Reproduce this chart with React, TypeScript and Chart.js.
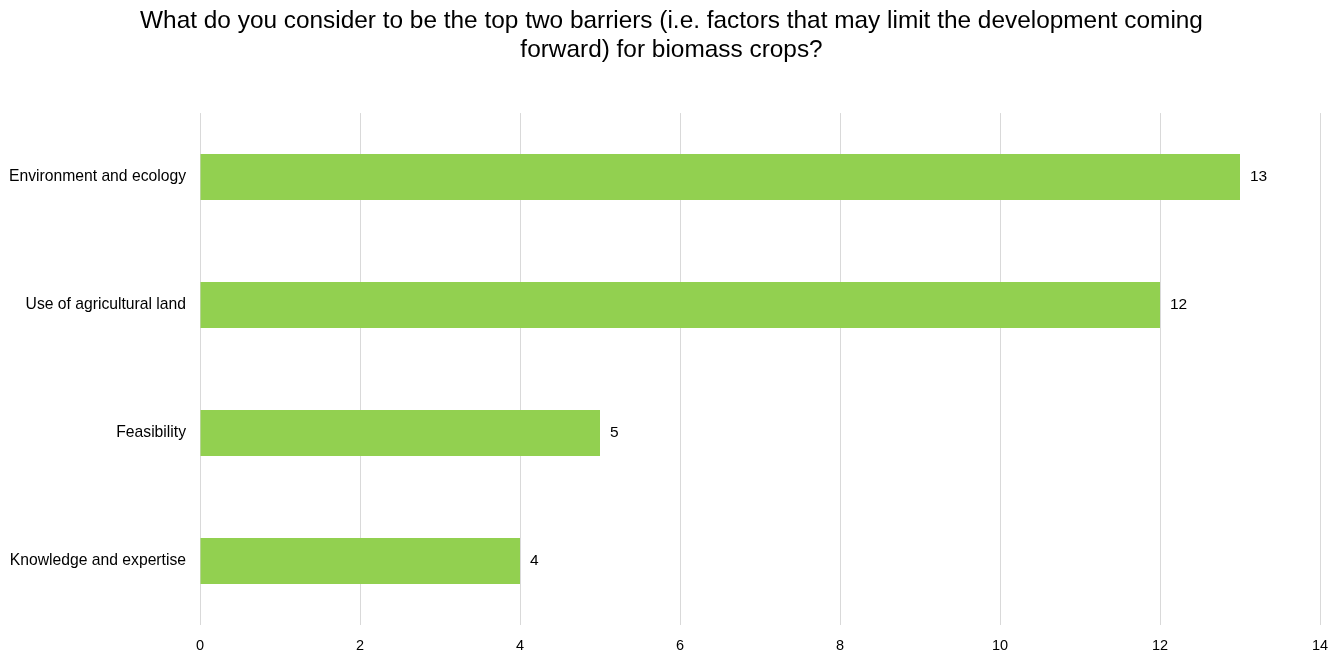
import React, { useEffect, useRef } from "react";
import { Chart, registerables } from "chart.js";

Chart.register(...registerables);

const categories = [
  "Environment and ecology",
  "Use of agricultural land",
  "Feasibility",
  "Knowledge and expertise",
];
const values = [13, 12, 5, 4];
const titleLines = [
  "What do you consider to be the top two barriers (i.e. factors that may limit the development coming",
  "forward) for biomass crops?",
];
const xMin = 0;
const xMax = 14;
const xStep = 2;

const FONT = "'Liberation Sans', Arial, sans-serif";

const valueLabels = {
  id: "valueLabels",
  afterDatasetsDraw(chart: any) {
    const ctx = chart.ctx;
    const meta = chart.getDatasetMeta(0);
    ctx.save();
    ctx.font = `15.5px ${FONT}`;
    ctx.fillStyle = "#000000";
    ctx.textAlign = "left";
    ctx.textBaseline = "middle";
    meta.data.forEach((bar: any, i: number) => {
      ctx.fillText(String(chart.data.datasets[0].data[i]), bar.x + 10, bar.y);
    });
    ctx.restore();
  },
};

export default function App() {
  const ref = useRef<HTMLCanvasElement | null>(null);
  useEffect(() => {
    if (!ref.current) return;
    const chart = new Chart(ref.current, {
      type: "bar",
      data: {
        labels: categories,
        datasets: [
          {
            data: values,
            backgroundColor: "#92D050",
            borderWidth: 0,
            categoryPercentage: 1,
            barPercentage: 0.36,
          },
        ],
      },
      options: {
        indexAxis: "y",
        animation: false,
        responsive: false,
        maintainAspectRatio: false,
        layout: { padding: { left: 0, right: 0, top: 0, bottom: 0 } },
        plugins: {
          legend: { display: false },
          tooltip: { enabled: false },
          title: {
            display: true,
            text: titleLines,
            color: "#000000",
            font: { family: FONT, size: 24.4, weight: "normal", lineHeight: 1.19 },
            padding: { top: 7, bottom: 48 },
          },
        },
        scales: {
          x: {
            min: xMin,
            max: xMax,
            border: { display: false },
            grid: { color: "#d9d9d9", lineWidth: 1, drawTicks: false },
            ticks: {
              stepSize: xStep,
              color: "#000000",
              padding: 12,
              font: { family: FONT, size: 14.5 },
            },
            afterFit: (scale: any) => {
              scale.height = 27;
            },
          },
          y: {
            border: { display: false },
            grid: { display: false, drawTicks: false },
            ticks: {
              color: "#000000",
              padding: 14,
              font: { family: FONT, size: 15.7 },
            },
            afterFit: (scale: any) => {
              scale.width = 200;
            },
          },
          yRight: {
            type: "category",
            position: "right",
            labels: categories,
            border: { display: false },
            grid: { display: false, drawTicks: false },
            ticks: { display: false },
            afterFit: (scale: any) => {
              scale.width = 23;
            },
          },
        },
      },
      plugins: [valueLabels],
    });
    return () => chart.destroy();
  }, []);
  return (
    <div style={{ position: "fixed", left: 0, top: 0, width: 1343, height: 652, background: "#fff" }}>
      <canvas ref={ref} width={1343} height={652} style={{ width: 1343, height: 652 }} />
    </div>
  );
}
